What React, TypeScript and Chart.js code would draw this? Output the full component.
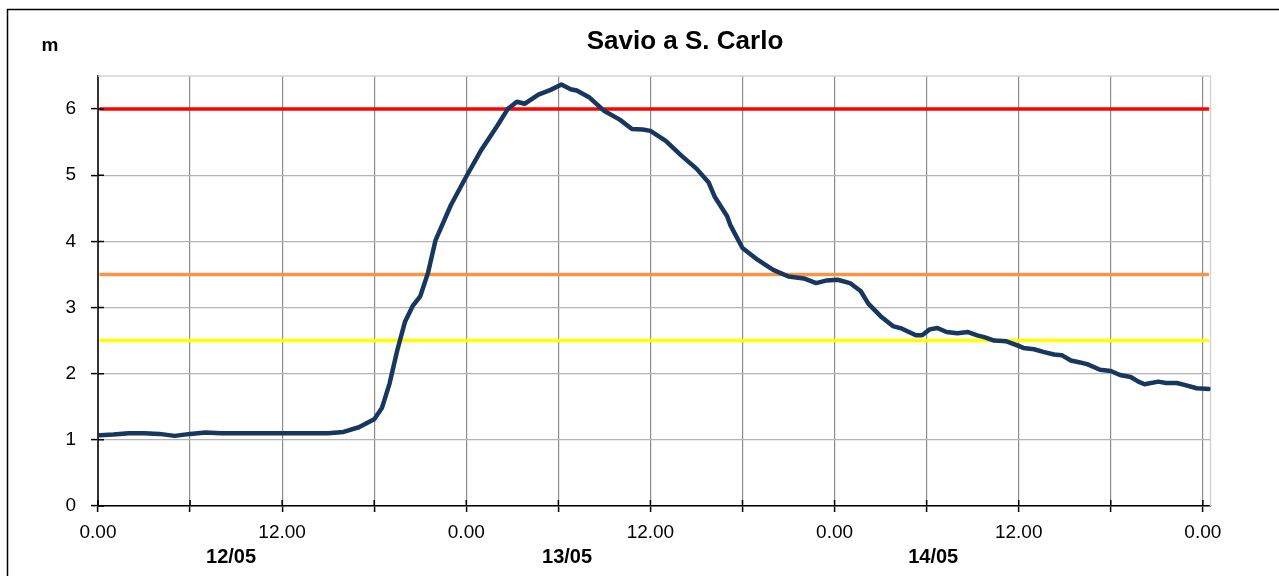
import { useEffect, useRef } from "react";
import { Chart, registerables } from "chart.js";

Chart.register(...registerables);

// ---- data ----
const hours = [
  0.1, 1, 2, 3, 4, 5, 6, 7, 8, 9, 10, 11, 12, 13, 14, 15, 16, 17, 18, 18.5, 19, 19.5, 20, 20.5, 21, 21.5, 22,
  23, 24, 25, 26, 26.7, 27.3, 27.8, 28.7, 29.5, 30.2, 30.8, 31.2, 32, 33, 34, 34.8, 35.5, 36, 37, 38, 39, 39.8,
  40.2, 41, 41.2, 42, 43, 44, 45, 46, 46.8, 47.5, 48.2, 49, 49.7, 50.2, 51, 51.8, 52.4, 53.3, 53.7, 54.2, 54.7,
  55.3, 56, 56.7, 57.3, 57.8, 58.4, 59.2, 60, 60.3, 61, 61.6, 62.3, 62.8, 63.4, 64, 64.5, 65.3, 66, 66.6, 67.3,
  67.8, 68.2, 69.1, 69.6, 70.3, 70.8, 71.6, 72.4,
];
const levels = [
  1.07, 1.08, 1.1, 1.1, 1.09, 1.06, 1.09, 1.11, 1.1, 1.1, 1.1, 1.1, 1.1, 1.1, 1.1, 1.1, 1.12, 1.19, 1.31, 1.48,
  1.85, 2.35, 2.78, 3.02, 3.17, 3.52, 4.02, 4.55, 4.98, 5.39, 5.74, 6.0, 6.11, 6.08, 6.22, 6.29, 6.37, 6.3, 6.28,
  6.18, 5.97, 5.84, 5.7, 5.69, 5.67, 5.52, 5.3, 5.1, 4.89, 4.67, 4.38, 4.25, 3.9, 3.72, 3.57, 3.47, 3.44, 3.37,
  3.41, 3.42, 3.37, 3.25, 3.06, 2.87, 2.72, 2.68, 2.58, 2.58, 2.67, 2.69, 2.63, 2.61, 2.63, 2.58, 2.55, 2.5,
  2.49, 2.42, 2.39, 2.37, 2.33, 2.29, 2.28, 2.2, 2.17, 2.14, 2.06, 2.04, 1.98, 1.95, 1.88, 1.84, 1.88, 1.86,
  1.86, 1.83, 1.78, 1.77,
];
const thresholdValues = [6, 3.5, 2.5];
const xTickHours = [0, 6, 12, 18, 24, 30, 36, 42, 48, 54, 60, 66, 72];
const xTickLabels = ["0.00", "", "12.00", "", "0.00", "", "12.00", "", "0.00", "", "12.00", "", "0.00"];
const yTickValues = [0, 1, 2, 3, 4, 5, 6];
const dayLabels = ["12/05", "13/05", "14/05"];
const dayLabelHours = [8.67, 30.57, 54.43];
const titleText = "Savio a S. Carlo";
const unitText = "m";

// ---- styles ----
const FONT = "'Liberation Sans', Arial, sans-serif";
const thresholdColors = ["#FF0000", "#F79646", "#FFFF00"];
const seriesColor = "#17375E";

export default function App() {
  const ref = useRef<HTMLCanvasElement | null>(null);

  useEffect(() => {
    document.body.style.margin = "0";
    const canvas = ref.current;
    if (!canvas) return;

    const decor = {
      id: "decor",
      beforeDatasetsDraw(chart: any) {
        const { ctx, chartArea } = chart;
        ctx.save();
        ctx.strokeStyle = "#D4D4D4";
        ctx.lineWidth = 1.5;
        ctx.beginPath();
        ctx.moveTo(chartArea.left, chartArea.top);
        ctx.lineTo(chartArea.right, chartArea.top);
        ctx.lineTo(chartArea.right, chartArea.bottom);
        ctx.stroke();
        ctx.restore();
      },
      afterDraw(chart: any) {
        const { ctx, chartArea, scales } = chart;
        ctx.save();
        // outer frame
        ctx.strokeStyle = "#000";
        ctx.lineWidth = 1.5;
        ctx.strokeRect(7.5, 9.5, 1400, 700);
        // inner tick marks
        ctx.lineWidth = 1.5;
        ctx.beginPath();
        xTickHours.forEach((h) => {
          const x = scales.x.getPixelForValue(h);
          ctx.moveTo(x, chartArea.bottom);
          ctx.lineTo(x, chartArea.bottom - 6);
        });
        yTickValues.forEach((v) => {
          const y = scales.y.getPixelForValue(v);
          ctx.moveTo(chartArea.left, y);
          ctx.lineTo(chartArea.left + 6, y);
        });
        ctx.stroke();
        // title
        ctx.fillStyle = "#000";
        ctx.textAlign = "center";
        ctx.textBaseline = "middle";
        ctx.font = `bold 26px ${FONT}`;
        ctx.fillText(titleText, 685, 42);
        ctx.font = `bold 19px ${FONT}`;
        ctx.fillText(unitText, 50, 46);
        // day labels
        ctx.font = `bold 20px ${FONT}`;
        dayLabels.forEach((d, i) => {
          ctx.fillText(d, scales.x.getPixelForValue(dayLabelHours[i]), 557);
        });
        ctx.restore();
      },
    };

    const last = hours.length - 1;
    const chart = new Chart(canvas, {
      type: "line",
      data: {
        datasets: [
          {
            data: hours.map((h, i) => ({ x: h, y: levels[i] })),
            borderColor: seriesColor,
            borderWidth: 4.5,
            pointRadius: 0,
            tension: 0,
            borderCapStyle: "round",
            borderJoinStyle: "round",
            order: 0,
          },
          ...thresholdValues.map((t, i) => ({
            data: [
              { x: hours[0], y: t },
              { x: hours[last], y: t },
            ],
            borderColor: thresholdColors[i],
            borderWidth: 3.5,
            pointRadius: 0,
            order: 1 + i,
          })),
        ],
      },
      options: {
        responsive: false,
        animation: false,
        devicePixelRatio: 1,
        layout: { padding: { left: 0, top: 76, right: 68.5, bottom: 0 } },
        plugins: { legend: { display: false }, title: { display: false }, tooltip: { enabled: false } },
        scales: {
          x: {
            type: "linear",
            min: 0,
            max: 72.5,
            afterBuildTicks: (scale: any) => {
              scale.ticks = xTickHours.map((v) => ({ value: v }));
            },
            afterFit: (scale: any) => {
              scale.height = 70;
            },
            grid: { color: "#8C8C8C", lineWidth: 1.2, tickLength: 6, tickColor: "#000", tickWidth: 1.5 },
            border: { color: "#000", width: 1.5 },
            ticks: {
              autoSkip: false,
              maxRotation: 0,
              padding: 9,
              color: "#000",
              font: { family: FONT, size: 19 },
              callback: (v: any) => {
                const i = xTickHours.indexOf(Number(v));
                return i >= 0 ? xTickLabels[i] : "";
              },
            },
          },
          y: {
            type: "linear",
            min: 0,
            max: 6.5,
            afterBuildTicks: (scale: any) => {
              scale.ticks = yTickValues.map((v) => ({ value: v }));
            },
            afterFit: (scale: any) => {
              scale.width = 98;
            },
            grid: { color: "#B4B4B4", lineWidth: 1.2, tickLength: 7, tickColor: "#000", tickWidth: 1.5 },
            border: { color: "#333", width: 2 },
            ticks: {
              padding: 15,
              color: "#000",
              font: { family: FONT, size: 19 },
              callback: (v: any) => String(v),
            },
          },
        },
      },
      plugins: [decor],
    } as any);

    return () => chart.destroy();
  }, []);

  return (
    <div style={{ width: 1279, height: 576 }}>
      <canvas ref={ref} width={1279} height={576} style={{ display: "block" }} />
    </div>
  );
}
